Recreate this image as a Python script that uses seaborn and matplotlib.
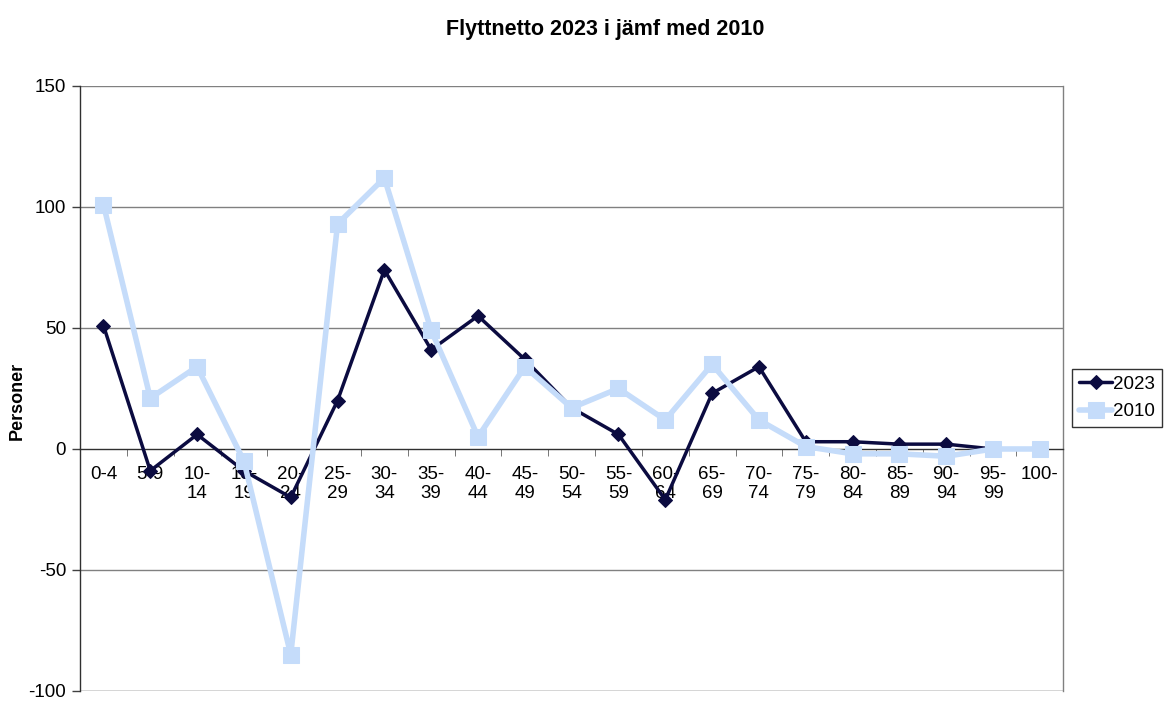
import numpy as np
import pandas as pd
import seaborn as sns
import matplotlib.pyplot as plt
from matplotlib.ticker import FixedLocator

# data
age_groups = ['0-4', '5-9', '10-\n14', '15-\n19', '20-\n24', '25-\n29', '30-\n34', '35-\n39',
              '40-\n44', '45-\n49', '50-\n54', '55-\n59', '60-\n64', '65-\n69', '70-\n74',
              '75-\n79', '80-\n84', '85-\n89', '90-\n94', '95-\n99', '100-']
netto_2023 = [51, -9, 6, -9, -20, 20, 74, 41, 55, 37, 17, 6, -21, 23, 34, 3, 3, 2, 2, 0, 0]
netto_2010 = [101, 21, 34, -5, -85, 93, 112, 49, 5, 34, 17, 25, 12, 35, 12, 1, -2, -2, -3, 0, 0]

col_2023 = '#0b0b40'
col_2010 = '#c5dcfa'

pos = np.arange(len(age_groups))
df = pd.DataFrame({
    'pos': np.concatenate([pos, pos]),
    'value': netto_2023 + netto_2010,
    'year': ['2023'] * len(pos) + ['2010'] * len(pos),
})

sns.set_style('white')
plt.rcParams['font.family'] = ['Liberation Sans', 'DejaVu Sans']
plt.rcParams['axes.unicode_minus'] = False
plt.rcParams['text.color'] = 'black'
plt.rcParams['axes.labelcolor'] = 'black'
plt.rcParams['xtick.color'] = 'black'
plt.rcParams['ytick.color'] = 'black'

fig = plt.figure(figsize=(11.67, 7.02), dpi=100)
ax = fig.add_axes([0.0686, 0.0157, 0.8425, 0.8618])

sns.lineplot(data=df[df['year'] == '2023'], x='pos', y='value', color=col_2023,
             marker='D', markersize=7, markeredgecolor=col_2023, linewidth=2.5,
             label='2023', ax=ax, zorder=3)
sns.lineplot(data=df[df['year'] == '2010'], x='pos', y='value', color=col_2010,
             marker='s', markersize=11, markeredgecolor=col_2010, linewidth=4,
             label='2010', ax=ax, zorder=4)

ax.set_xlim(-0.5, len(age_groups) - 0.5)
ax.set_ylim(-100, 150)
ax.set_yticks([-100, -50, 0, 50, 100, 150])
ax.tick_params(axis='y', labelsize=13.5, length=6, width=1, color='#404040',
               direction='out', left=True, pad=4)

ax.set_xticks(pos)
ax.set_xticklabels(age_groups, linespacing=1.05)
ax.xaxis.set_minor_locator(FixedLocator(np.arange(-0.5, len(age_groups), 1.0)))
ax.tick_params(axis='x', which='major', length=0, pad=12, labelsize=13.5)
ax.tick_params(axis='x', which='minor', length=5, direction='out', color='#606060', bottom=True)

for yv in [-50, 50, 100, 150]:
    ax.axhline(yv, color='#808080', linewidth=1, zorder=1)
ax.axhline(-100, color='#303030', linewidth=1, zorder=1)

ax.spines['bottom'].set_position(('data', 0))
ax.spines['bottom'].set_color('#303030')
ax.spines['left'].set_color('#303030')
ax.spines['right'].set_color('#808080')
ax.spines['top'].set_visible(False)
for s in ax.spines.values():
    s.set_linewidth(1)

ax.set_xlabel('')
ax.set_ylabel('Personer', fontsize=13, fontweight='bold')
ax.yaxis.set_label_coords(-0.055, 0.48)

fig.suptitle('Flyttnetto 2023 i jämf med 2010', x=0.519, y=0.973,
             fontsize=15.5, fontweight='bold')

leg = ax.legend(loc='center left', bbox_to_anchor=(1.009, 0.484), fontsize=13.5,
                frameon=True, fancybox=False, edgecolor='black', handlelength=1.8,
                borderpad=0.35, labelspacing=0.55, handletextpad=0.05, borderaxespad=0)
leg.get_frame().set_linewidth(1)

fig.savefig('out.png', dpi=100)
